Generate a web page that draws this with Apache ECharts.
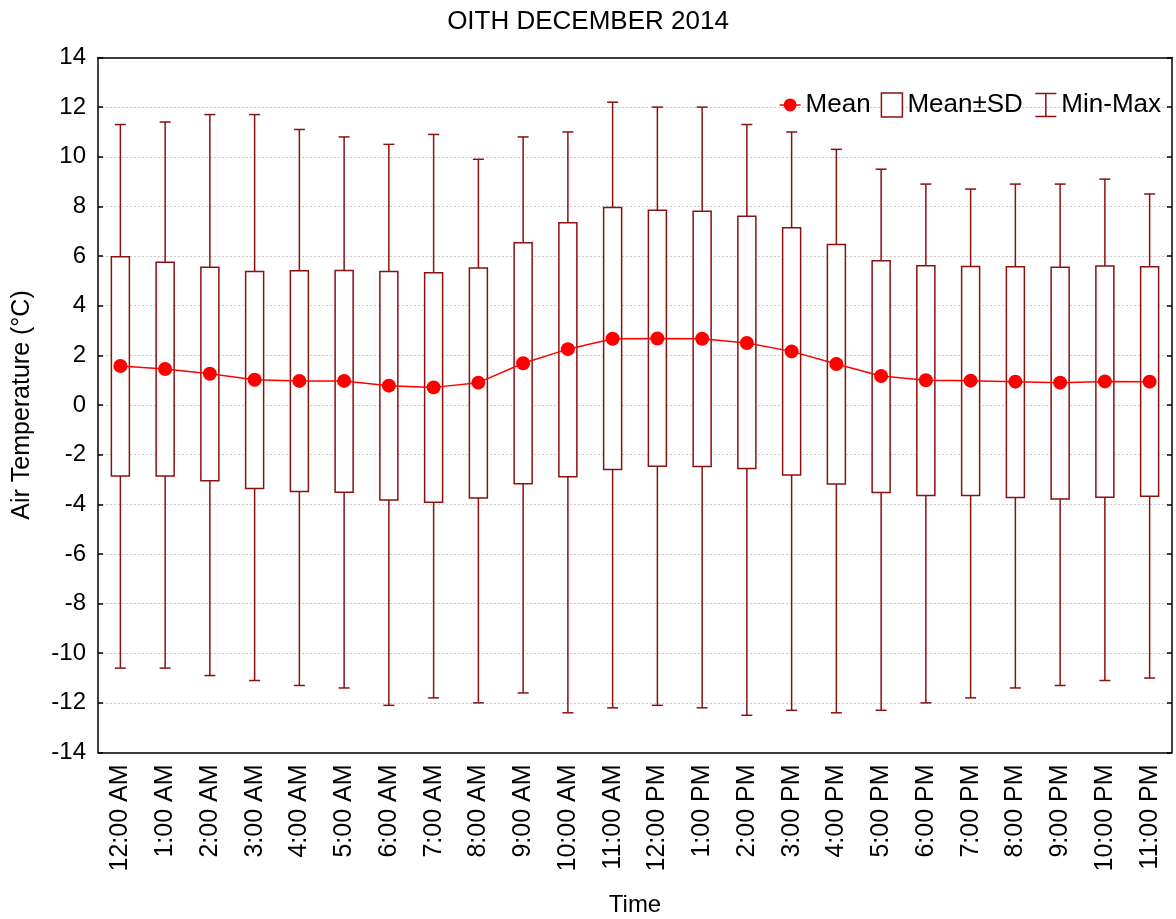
<!DOCTYPE html>
<html>
<head>
<meta charset="utf-8">
<script src="https://cdn.jsdelivr.net/npm/echarts@6/dist/echarts.min.js"></script>
<style>html,body{margin:0;padding:0;background:#fff}#c{width:1176px;height:919px}</style>
</head>
<body>
<div id="c"></div>
<script>
const categories = ['12:00 AM','1:00 AM','2:00 AM','3:00 AM','4:00 AM','5:00 AM','6:00 AM','7:00 AM','8:00 AM','9:00 AM','10:00 AM','11:00 AM','12:00 PM','1:00 PM','2:00 PM','3:00 PM','4:00 PM','5:00 PM','6:00 PM','7:00 PM','8:00 PM','9:00 PM','10:00 PM','11:00 PM'];
const means   = [1.57,1.45,1.26,1.02,0.97,0.97,0.78,0.71,0.90,1.68,2.25,2.67,2.68,2.67,2.50,2.16,1.65,1.17,1.00,0.98,0.94,0.90,0.95,0.94];
const sdUpper = [5.97,5.75,5.55,5.38,5.41,5.42,5.38,5.33,5.52,6.54,7.34,7.96,7.85,7.81,7.60,7.14,6.47,5.81,5.61,5.58,5.57,5.55,5.60,5.57];
const sdLower = [-2.86,-2.86,-3.05,-3.36,-3.48,-3.52,-3.83,-3.92,-3.75,-3.17,-2.89,-2.60,-2.47,-2.48,-2.56,-2.82,-3.18,-3.53,-3.65,-3.65,-3.73,-3.79,-3.72,-3.68];
const maxs    = [11.3,11.4,11.7,11.7,11.1,10.8,10.5,10.9,9.9,10.8,11.0,12.2,12.0,12.0,11.3,11.0,10.3,9.5,8.9,8.7,8.9,8.9,9.1,8.5];
const mins    = [-10.6,-10.6,-10.9,-11.1,-11.3,-11.4,-12.1,-11.8,-12.0,-11.6,-12.4,-12.2,-12.1,-12.2,-12.5,-12.3,-12.4,-12.3,-12.0,-11.8,-11.4,-11.3,-11.1,-11.0];

const DARK = '#8b1010';
const FONT = '"Liberation Sans", Arial, sans-serif';

const boxData = categories.map((c, i) => [i, sdLower[i], sdUpper[i]]);
const rangeData = categories.map((c, i) => [i, mins[i], maxs[i]]);

const chart = echarts.init(document.getElementById('c'), null, {renderer: 'canvas'});

const yCommon = {type: 'value', min: -14, max: 14, interval: 2};

chart.setOption({
  animation: false,
  backgroundColor: '#fff',
  title: {
    text: 'OITH DECEMBER 2014',
    left: 'center', top: 4,
    textStyle: {fontFamily: FONT, fontWeight: 'normal', fontSize: 26, color: '#000'}
  },
  legend: {
    top: 86, right: 10,
    itemGap: 10, itemWidth: 21, itemHeight: 24,
    textStyle: {fontFamily: FONT, fontSize: 26, color: '#000'},
    data: [
      {name: 'Mean', icon: 'path://M0,0 M0,24 M0,12 L22,12 M5,12 A6,6 0 1 1 17,12 A6,6 0 1 1 5,12 Z',
        itemStyle: {color: '#ff0000', borderColor: '#ff0000', borderWidth: 1.5}},
      {name: 'Mean±SD', icon: 'rect', itemStyle: {color: '#fff', borderColor: DARK, borderWidth: 1.5}},
      {name: 'Min-Max', icon: 'path://M0,0 L22,0 M11,0 L11,24 M0,24 L22,24', itemStyle: {color: 'none', borderColor: DARK, borderWidth: 1.5}}
    ]
  },
  grid: {left: 98, right: 4, top: 57.5, bottom: 166.5, containLabel: false, outerBoundsMode: 'none'},
  xAxis: [
    {
      type: 'category', data: categories, position: 'bottom',
      boundaryGap: true,
      axisLine: {onZero: false, lineStyle: {color: '#000', width: 1.5}},
      axisTick: {inside: true, alignWithLabel: true, length: 5, lineStyle: {color: '#000', width: 1.5}},
      axisLabel: {rotate: 90, margin: 12, fontFamily: FONT, fontSize: 25, color: '#000', interval: 0},
      splitLine: {show: false},
      name: 'Time', nameLocation: 'middle', nameGap: 141,
      nameTextStyle: {fontFamily: FONT, fontSize: 24, color: '#000'}
    },
    {
      type: 'category', data: categories, position: 'top',
      boundaryGap: true,
      axisLine: {onZero: false, lineStyle: {color: '#000', width: 1.5}},
      axisTick: {inside: true, alignWithLabel: true, length: 5, lineStyle: {color: '#000', width: 1.5}},
      axisLabel: {show: false},
      splitLine: {show: false}
    }
  ],
  yAxis: [
    Object.assign({}, yCommon, {
      position: 'left',
      axisLine: {show: true, onZero: false, lineStyle: {color: '#000', width: 1.5}},
      axisTick: {show: true, inside: true, length: 5, lineStyle: {color: '#000', width: 1.5}},
      axisLabel: {margin: 12, fontFamily: FONT, fontSize: 24, color: '#000'},
      splitLine: {show: true, lineStyle: {color: '#c8c8c8', type: [2, 2], width: 1}},
      name: 'Air Temperature (°C)', nameLocation: 'middle', nameGap: 63,
      nameTextStyle: {fontFamily: FONT, fontSize: 25, color: '#000'}
    }),
    Object.assign({}, yCommon, {
      position: 'right',
      axisLine: {show: true, onZero: false, lineStyle: {color: '#000', width: 1.5}},
      axisTick: {show: true, inside: true, length: 5, lineStyle: {color: '#000', width: 1.5}},
      axisLabel: {show: false},
      splitLine: {show: false}
    })
  ],
  series: [
    {
      name: 'Min-Max', type: 'custom', z: 2,
      itemStyle: {color: 'none', borderColor: DARK},
      data: rangeData,
      encode: {x: 0, y: [1, 2]},
      renderItem: function (params, api) {
        const x = api.value(0);
        const pMin = api.coord([x, api.value(1)]);
        const pMax = api.coord([x, api.value(2)]);
        const cap = 5.5;
        const st = {stroke: DARK, lineWidth: 1.5, fill: null};
        return {
          type: 'group',
          children: [
            {type: 'line', shape: {x1: pMin[0], y1: pMin[1], x2: pMax[0], y2: pMax[1]}, style: st},
            {type: 'line', shape: {x1: pMin[0] - cap, y1: pMin[1], x2: pMin[0] + cap, y2: pMin[1]}, style: st},
            {type: 'line', shape: {x1: pMax[0] - cap, y1: pMax[1], x2: pMax[0] + cap, y2: pMax[1]}, style: st}
          ]
        };
      }
    },
    {
      name: 'Mean±SD', type: 'custom', z: 3,
      itemStyle: {color: '#fff', borderColor: DARK},
      data: boxData,
      encode: {x: 0, y: [1, 2]},
      renderItem: function (params, api) {
        const x = api.value(0);
        const pLo = api.coord([x, api.value(1)]);
        const pHi = api.coord([x, api.value(2)]);
        const w = 18;
        return {
          type: 'rect',
          shape: {x: pLo[0] - w / 2, y: pHi[1], width: w, height: pLo[1] - pHi[1]},
          style: {fill: '#fff', stroke: DARK, lineWidth: 1.5}
        };
      }
    },
    {
      name: 'Mean', type: 'line', z: 5,
      data: means,
      symbol: 'circle', symbolSize: 14,
      lineStyle: {color: '#ff0000', width: 1.5},
      itemStyle: {color: '#ff0000'}
    }
  ]
});
</script>
</body>
</html>
